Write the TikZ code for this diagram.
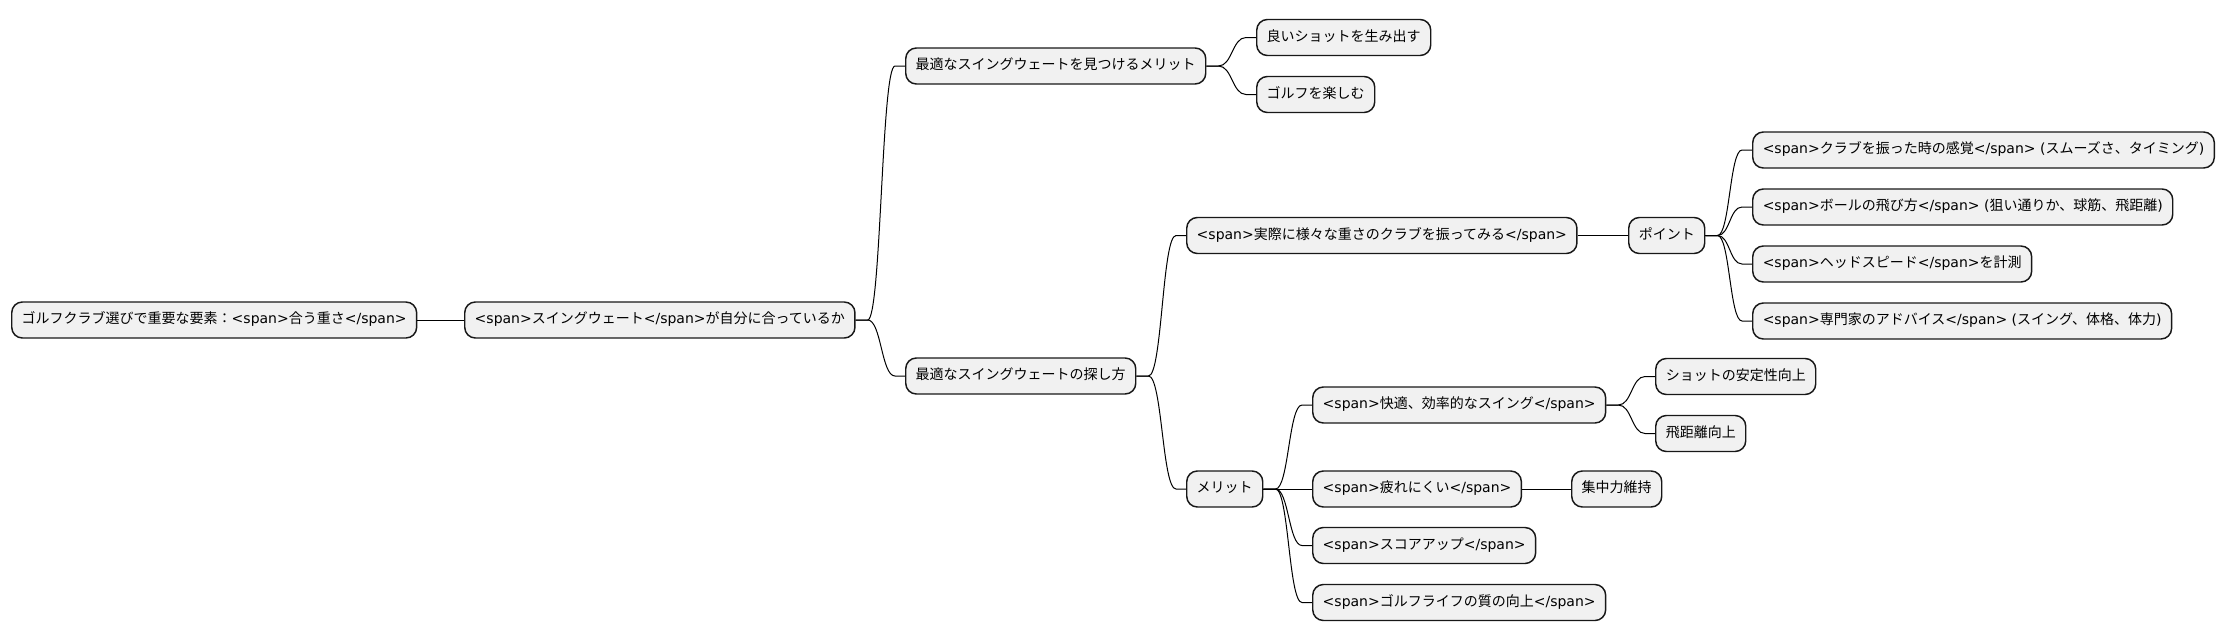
\documentclass[tikz,border=0pt]{standalone}
\usepackage{fontspec}
\setmainfont{DejaVu Sans}
\newfontfamily\jp{Noto Sans CJK JP}
\newcommand\J[1]{{\jp #1}}
\usetikzlibrary{calc}
\definecolor{boxfill}{HTML}{F1F1F1}
\definecolor{boxline}{HTML}{181818}
\tikzset{
  mmbox/.style={draw=boxline, fill=boxfill, line width=1.1pt, rounded corners=8pt,
    anchor=west, inner xsep=7.5pt, inner ysep=0pt, minimum height=27pt,
    text height=8.2pt, text depth=2.3pt, font=\fontsize{10.5pt}{12pt}\selectfont},
  mmlink/.style={draw=black, line width=0.75pt}
}
\newcommand\mmlink[2]{%
  \path (#1.east) ++(12,0) coordinate (mmA);
  \path (#2.west) ++(-10,0) coordinate (mmB);
  \coordinate (mmM) at ($(mmA)!0.5!(mmB)$);
  \draw[mmlink] (#1.east) -- (mmA) .. controls (mmM |- mmA) and (mmM |- mmB) .. (mmB) -- (#2.west);
}
\begin{document}
\begin{tikzpicture}[x=0.75pt,y=-0.75pt]
\useasboundingbox (0,0) rectangle (2225,640);
\node[mmbox] (root) at (11,320) {\J{ゴルフクラブ選びで重要な要素：}<span>\J{合う重さ}</span>};
\node[mmbox] (n1) at (464,320) {<span>\J{スイングウェート}</span>\J{が自分に合っているか}};
\node[mmbox] (n2) at (905,66) {\J{最適なスイングウェートを見つけるメリット}};
\node[mmbox] (n3) at (1256,37.5) {\J{良いショットを生み出す}};
\node[mmbox] (n4) at (1256,94.5) {\J{ゴルフを楽しむ}};
\node[mmbox] (n5) at (905,376) {\J{最適なスイングウェートの探し方}};
\node[mmbox] (n6) at (1186,235.5) {<span>\J{実際に様々な重さのクラブを振ってみる}</span>};
\node[mmbox] (n7) at (1628,235.5) {\J{ポイント}};
\node[mmbox] (n8) at (1752,150) {<span>\J{クラブを振った時の感覚}</span> (\J{スムーズさ、タイミング})};
\node[mmbox] (n9) at (1752,207) {<span>\J{ボールの飛び方}</span> (\J{狙い通りか、球筋、飛距離})};
\node[mmbox] (n10) at (1752,264) {<span>\J{ヘッドスピード}</span>\J{を計測}};
\node[mmbox] (n11) at (1752,321) {<span>\J{専門家のアドバイス}</span> (\J{スイング、体格、体力})};
\node[mmbox] (n12) at (1186,489) {\J{メリット}};
\node[mmbox] (n13) at (1312,405) {<span>\J{快適、効率的なスイング}</span>};
\node[mmbox] (n14) at (1655,376.5) {\J{ショットの安定性向上}};
\node[mmbox] (n15) at (1655,433.5) {\J{飛距離向上}};
\node[mmbox] (n16) at (1312,489) {<span>\J{疲れにくい}</span>};
\node[mmbox] (n17) at (1571,489) {\J{集中力維持}};
\node[mmbox] (n18) at (1312,545.5) {<span>\J{スコアアップ}</span>};
\node[mmbox] (n19) at (1312,602.5) {<span>\J{ゴルフライフの質の向上}</span>};
\draw[mmlink] (root) -- (n1);
\mmlink{n1}{n2}
\mmlink{n2}{n3}
\mmlink{n2}{n4}
\mmlink{n1}{n5}
\mmlink{n5}{n6}
\draw[mmlink] (n6) -- (n7);
\mmlink{n7}{n8}
\mmlink{n7}{n9}
\mmlink{n7}{n10}
\mmlink{n7}{n11}
\mmlink{n5}{n12}
\mmlink{n12}{n13}
\mmlink{n13}{n14}
\mmlink{n13}{n15}
\draw[mmlink] (n12) -- (n16);
\draw[mmlink] (n16) -- (n17);
\mmlink{n12}{n18}
\mmlink{n12}{n19}
\end{tikzpicture}
\end{document}
